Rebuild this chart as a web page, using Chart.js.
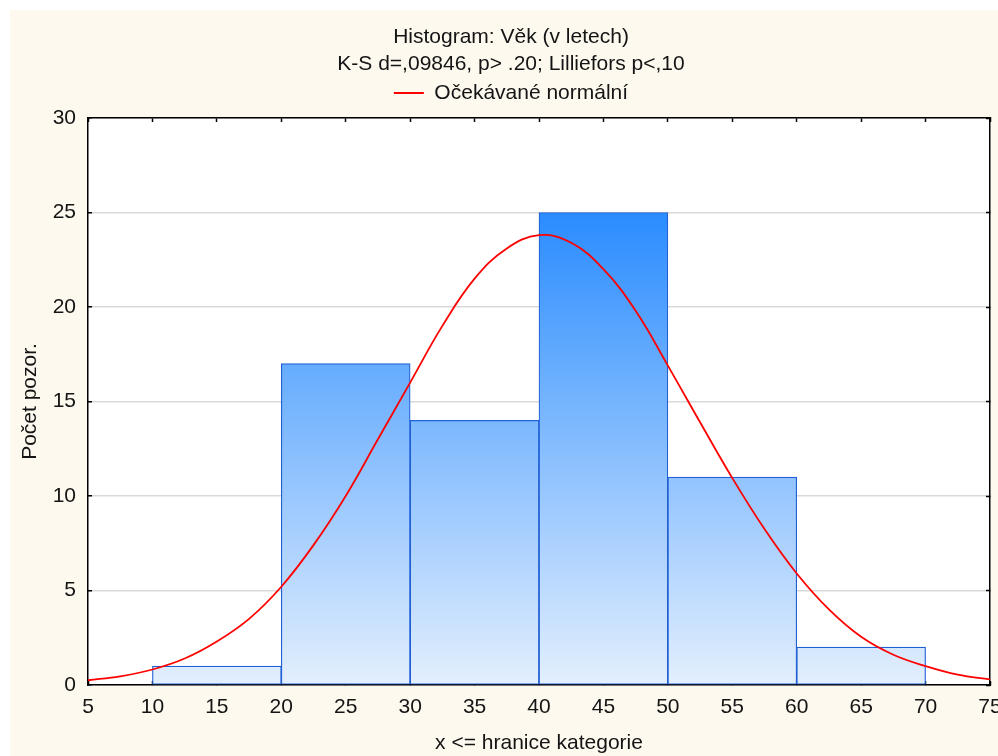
<!DOCTYPE html>
<html>
<head>
<meta charset="utf-8">
<script src="https://cdn.jsdelivr.net/npm/chart.js@4"></script>
<style>
  html, body { margin: 0; padding: 0; background: #fff; }
  #wrap { width: 998px; height: 756px; }
</style>
</head>
<body>
<div id="wrap"><canvas id="myChart" width="998" height="756"></canvas></div>
<script>
// histogram bins (midpoints) and counts
const binMids = [15, 25, 35, 45, 55, 65];
const binCounts = [1, 17, 14, 25, 11, 2];

// expected normal curve
const curveX = [
  5, 7.5, 10, 12.5, 15, 17.5, 20, 22.5, 25, 27.5, 30, 32.5, 35, 37.5, 40,
  42.5, 45, 47.5, 50, 52.5, 55, 57.5, 60, 62.5, 65, 67.5, 70, 72.5, 75,
];
const curveY = [
  0.25, 0.46, 0.82, 1.4, 2.3, 3.5, 5.2, 7.4, 10.0, 13.0, 16.0, 19.0, 21.5,
  23.1, 23.8, 23.4, 22.0, 19.8, 16.9, 13.9, 10.95, 8.25, 5.9, 4.0, 2.55, 1.6, 1.0,
  0.55, 0.3,
];

const titleLines = ["Histogram: Věk (v letech)", "K-S d=,09846, p> .20; Lilliefors p<,10"];
const curveLabel = "Očekávané normální";
const xTitle = "x <= hranice kategorie";
const yTitle = "Počet pozor.";

const FONT = "'Liberation Sans', Arial, sans-serif";
const TEXT = "#141414";

// white page edge, cream panel, white plot area
const background = {
  id: "background",
  beforeDraw(chart) {
    const { ctx, width, height, chartArea } = chart;
    ctx.save();
    ctx.fillStyle = "#ffffff";
    ctx.fillRect(0, 0, width, height);
    ctx.fillStyle = "#fdf9ef";
    ctx.fillRect(10, 10, width - 10, height - 10);
    ctx.fillStyle = "#ffffff";
    ctx.fillRect(chartArea.left, chartArea.top, chartArea.right - chartArea.left, chartArea.bottom - chartArea.top);
    ctx.restore();
  },
};

function barGradient(context) {
  const chart = context.chart;
  const { chartArea, scales } = chart;
  if (!chartArea) return "#6aaefc";
  const yTop = scales.y.getPixelForValue(Math.max(...binCounts));
  const yBottom = scales.y.getPixelForValue(0);
  const g = chart.ctx.createLinearGradient(0, yTop, 0, yBottom);
  g.addColorStop(0, "#2a8cff");
  g.addColorStop(1, "#e3effd");
  return g;
}

const inwardTicks = { tickLength: -4, tickColor: "#000", tickWidth: 1.5 };

// let the end labels hang over the plot edges instead of shrinking it
function fixBottom(s) {
  s.height = 71;
  s.paddingLeft = 0;
  s.paddingRight = 0;
}

const myChart = new Chart("myChart", {
  data: {
    datasets: [
      {
        type: "bar",
        label: "Počet",
        data: binMids.map((x, i) => ({ x: x, y: binCounts[i] })),
        backgroundColor: barGradient,
        borderColor: "#2160d4",
        borderWidth: 1.2,
        borderSkipped: false,
        barThickness: "flex",
        barPercentage: 1,
        categoryPercentage: 1,
        order: 1,
      },
      {
        type: "line",
        label: curveLabel,
        data: curveX.map((x, i) => ({ x: x, y: curveY[i] })),
        borderColor: "#ff0000",
        borderWidth: 1.8,
        pointRadius: 0,
        tension: 0.4,
        fill: false,
        order: 0,
      },
    ],
  },
  options: {
    responsive: false,
    animation: false,
    layout: { padding: { left: 24 } },
    scales: {
      x: {
        type: "linear",
        position: "bottom",
        offset: false,
        min: 5,
        max: 75,
        afterFit: fixBottom,
        border: { color: "#000", width: 1.5 },
        grid: { drawOnChartArea: false, offset: false, ...inwardTicks },
        ticks: { stepSize: 5, padding: 14, color: TEXT, font: { family: FONT, size: 21 } },
        title: { display: true, text: xTitle, color: TEXT, padding: { top: 0, bottom: 0 }, font: { family: FONT, size: 21 } },
      },
      x2: {
        type: "linear",
        position: "top",
        offset: false,
        min: 5,
        max: 75,
        afterFit: (s) => { s.height = 4.5; s.paddingLeft = 0; s.paddingRight = 0; },
        border: { color: "#000", width: 1.5 },
        grid: { drawOnChartArea: false, offset: false, ...inwardTicks },
        ticks: { stepSize: 5, display: false },
      },
      y: {
        type: "linear",
        position: "left",
        min: 0,
        max: 30,
        afterFit: (s) => { s.width = 64; },
        border: { color: "#000", width: 1.5 },
        grid: { color: "#d9d9d9", lineWidth: 1.5, ...inwardTicks },
        ticks: { stepSize: 5, padding: 16, color: TEXT, font: { family: FONT, size: 21 } },
        title: { display: true, text: yTitle, color: TEXT, padding: { top: -6.6, bottom: 0 }, font: { family: FONT, size: 21 } },
      },
      y2: {
        type: "linear",
        position: "right",
        min: 0,
        max: 30,
        afterFit: (s) => { s.width = 8; },
        border: { color: "#000", width: 1.5 },
        grid: { drawOnChartArea: false, ...inwardTicks },
        ticks: { stepSize: 5, display: false },
      },
    },
    plugins: {
      title: {
        display: true,
        text: titleLines,
        color: TEXT,
        padding: { top: 23.5, bottom: 1 },
        font: { family: FONT, size: 21, weight: "normal", lineHeight: 27 / 21 },
      },
      legend: {
        display: true,
        position: "top",
        labels: {
          filter: (item) => item.datasetIndex === 1,
          usePointStyle: true,
          pointStyle: "line",
          pointStyleWidth: 30,
          padding: 4,
          color: TEXT,
          font: { family: FONT, size: 21 },
        },
      },
      tooltip: { enabled: false },
    },
  },
  plugins: [background],
});
</script>
</body>
</html>
